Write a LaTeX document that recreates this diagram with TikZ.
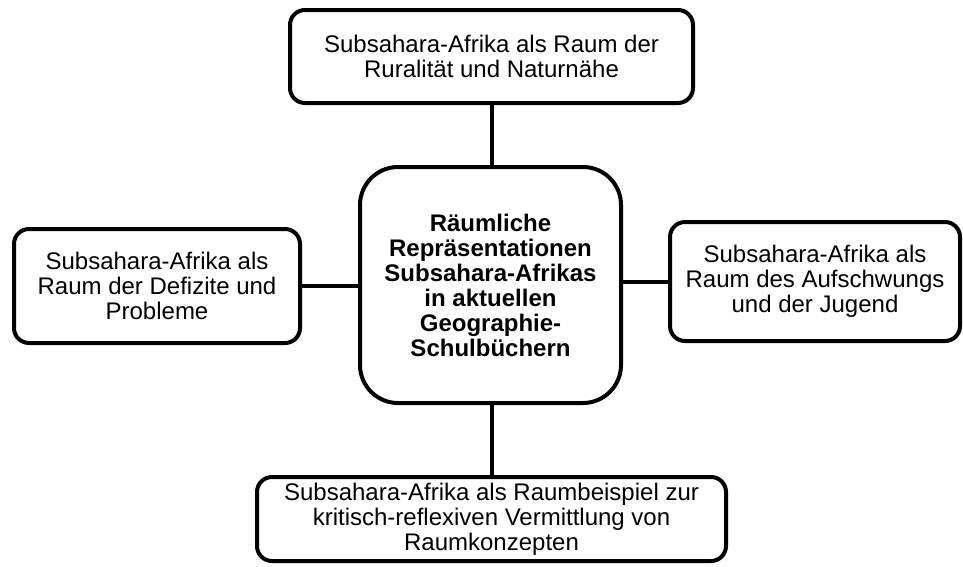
\documentclass[tikz,border=0pt]{standalone}
\usepackage{fontspec}
\setmainfont{Liberation Sans}
\begin{document}
\begin{tikzpicture}[x=1pt,y=-1pt,
  box/.style={draw,line width=4pt,rounded corners=15pt,align=center,inner sep=0pt,
    font=\fontsize{24}{25}\selectfont},
  hub/.style={box,rounded corners=38pt,font=\fontsize{24}{25}\selectfont\bfseries}]
\useasboundingbox (0,0) rectangle (963,566);

\node[box,minimum width=403pt,minimum height=93pt] (rural) at (491.5,56.5)
  {Subsahara-Afrika als Raum der\\Ruralität und Naturnähe};
\node[hub,minimum width=261pt,minimum height=236pt] (hub) at (490.5,285)
  {Räumliche\\Repräsentationen\\Subsahara-Afrikas\\in aktuellen\\Geographie-\\Schulbüchern};
\node[box,minimum width=286pt,minimum height=114pt] (defizit) at (157,286)
  {Subsahara-Afrika als\\Raum der Defizite und\\Probleme};
\node[box,minimum width=290pt,minimum height=119pt] (aufschwung) at (815,281.5)
  {Subsahara-Afrika als\\Raum des Aufschwungs\\und der Jugend};
\node[box,minimum width=469pt,minimum height=84pt] (konzept) at (491.5,519)
  {Subsahara-Afrika als Raumbeispiel zur\\kritisch-reflexiven Vermittlung von\\Raumkonzepten};

\draw[line width=4pt] (rural.south) -- (rural.south |- hub.north);
\draw[line width=4pt] (defizit.east) -- (defizit.east -| hub.west);
\draw[line width=4pt] (aufschwung.west) -- (aufschwung.west -| hub.east);
\draw[line width=4pt] (konzept.north) -- (konzept.north |- hub.south);
\end{tikzpicture}
\end{document}
